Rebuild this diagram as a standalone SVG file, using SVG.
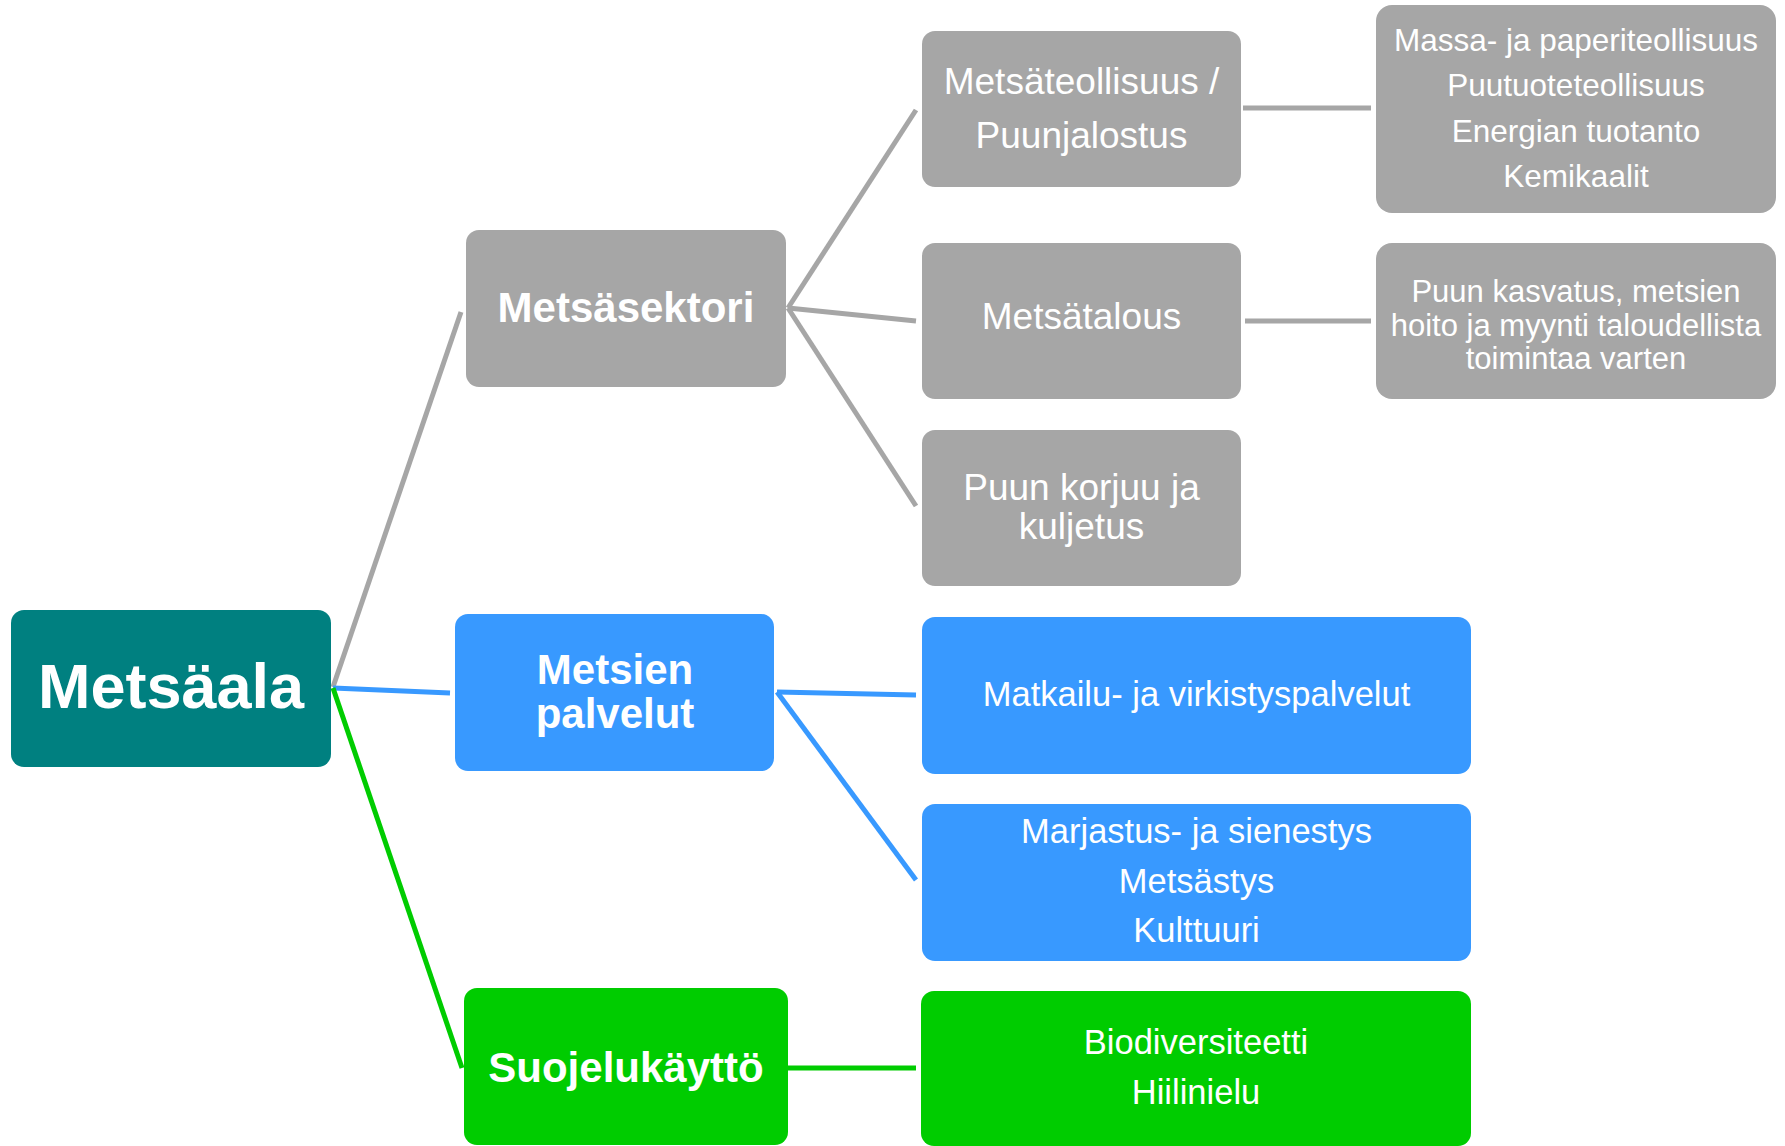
<svg xmlns="http://www.w3.org/2000/svg" width="1785" height="1146" viewBox="0 0 1785 1146">
<style>
.t{font-family:"Liberation Sans",Arial,sans-serif;fill:#ffffff;text-anchor:middle}
.b{font-weight:bold}
.grey{fill:#a6a6a6}
.blue{fill:#3899ff}
.green{fill:#00cc00}
.c{fill:none;stroke-width:5;stroke-linecap:butt}
.cg{stroke:#a6a6a6}
.cb{stroke:#3899ff}
.cgr{stroke:#00cc00}
</style>
<rect width="1785" height="1146" fill="#ffffff"/>
<g id="connectors">
<line class="c cg" x1="333" y1="687" x2="461" y2="312"/>
<line class="c cb" x1="333" y1="688" x2="450" y2="693"/>
<line class="c cgr" x1="333" y1="688" x2="462" y2="1068"/>
<line class="c cg" x1="788" y1="308" x2="916" y2="110"/>
<line class="c cg" x1="788" y1="308" x2="916" y2="321"/>
<line class="c cg" x1="788" y1="308" x2="916" y2="506"/>
<line class="c cg" x1="1243" y1="108" x2="1371" y2="108"/>
<line class="c cg" x1="1245" y1="321" x2="1371" y2="321"/>
<line class="c cb" x1="777" y1="692" x2="916" y2="695"/>
<line class="c cb" x1="777" y1="692" x2="916" y2="880"/>
<line class="c cgr" x1="788" y1="1068" x2="916" y2="1068"/>
</g>
<g id="metsaala">
<rect x="11" y="610" width="320" height="157" rx="13" fill="#008080"/>
<text class="t b" x="171" y="708" font-size="63">Metsäala</text>
</g>
<g id="metsasektori">
<rect class="grey" x="466" y="230" width="320" height="157" rx="13"/>
<text class="t b" x="626" y="322" font-size="42">Metsäsektori</text>
</g>
<g id="metsien-palvelut">
<rect class="blue" x="455" y="614" width="319" height="157" rx="13"/>
<text class="t b" x="615" y="684" font-size="42">Metsien</text>
<text class="t b" x="615" y="728" font-size="42">palvelut</text>
</g>
<g id="suojelukaytto">
<rect class="green" x="464" y="988" width="324" height="157" rx="13"/>
<text class="t b" x="626" y="1082" font-size="42">Suojelukäyttö</text>
</g>
<g id="metsateollisuus">
<rect class="grey" x="922" y="31" width="319" height="156" rx="13"/>
<text class="t" x="1081.5" y="94" font-size="37">Metsäteollisuus /</text>
<text class="t" x="1081.5" y="148" font-size="37">Puunjalostus</text>
</g>
<g id="metsatalous">
<rect class="grey" x="922" y="243" width="319" height="156" rx="13"/>
<text class="t" x="1081.5" y="329" font-size="37">Metsätalous</text>
</g>
<g id="puun-korjuu">
<rect class="grey" x="922" y="430" width="319" height="156" rx="13"/>
<text class="t" x="1081.5" y="500" font-size="37">Puun korjuu ja</text>
<text class="t" x="1081.5" y="539" font-size="37">kuljetus</text>
</g>
<g id="teollisuus-lista">
<rect class="grey" x="1376" y="5" width="400" height="208" rx="16"/>
<text class="t" x="1576" y="51" font-size="31.5">Massa- ja paperiteollisuus</text>
<text class="t" x="1576" y="96" font-size="31.5">Puutuoteteollisuus</text>
<text class="t" x="1576" y="142" font-size="31.5">Energian tuotanto</text>
<text class="t" x="1576" y="187" font-size="31.5">Kemikaalit</text>
</g>
<g id="talous-kuvaus">
<rect class="grey" x="1376" y="243" width="400" height="156" rx="16"/>
<text class="t" x="1576" y="302" font-size="31">Puun kasvatus, metsien</text>
<text class="t" x="1576" y="336" font-size="31">hoito ja myynti taloudellista</text>
<text class="t" x="1576" y="369" font-size="31">toimintaa varten</text>
</g>
<g id="matkailu">
<rect class="blue" x="922" y="617" width="549" height="157" rx="13"/>
<text class="t" x="1196.5" y="706" font-size="34.5">Matkailu- ja virkistyspalvelut</text>
</g>
<g id="marjastus">
<rect class="blue" x="922" y="804" width="549" height="157" rx="13"/>
<text class="t" x="1196.5" y="843" font-size="34.5">Marjastus- ja sienestys</text>
<text class="t" x="1196.5" y="893" font-size="34.5">Metsästys</text>
<text class="t" x="1196.5" y="942" font-size="34.5">Kulttuuri</text>
</g>
<g id="biodiversiteetti">
<rect class="green" x="921" y="991" width="550" height="155" rx="13"/>
<text class="t" x="1196" y="1054" font-size="34.5">Biodiversiteetti</text>
<text class="t" x="1196" y="1104" font-size="34.5">Hiilinielu</text>
</g>
</svg>
